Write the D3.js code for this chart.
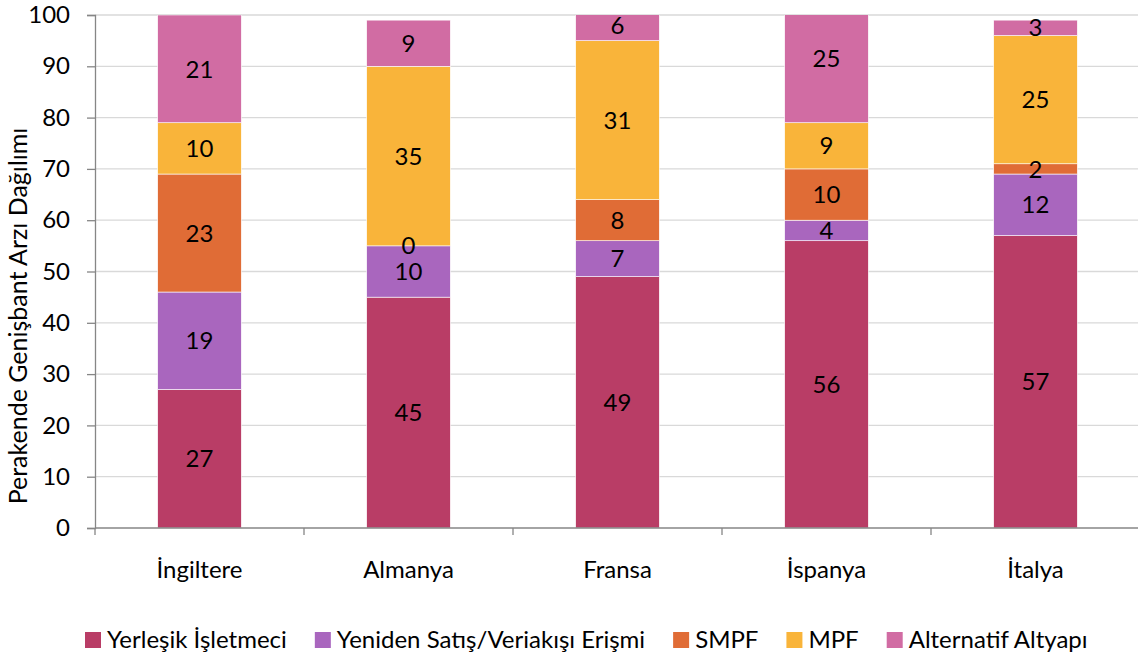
<!DOCTYPE html>
<html>
<head>
<meta charset="utf-8">
<script src="https://cdn.jsdelivr.net/npm/d3@7"></script>
<style>
	body { margin: 0; background: #fff; }
	text { font-family: Lato, "Open Sans", sans-serif; fill: #000; }
</style>
</head>
<body>
<script>
//chart data
var countries = ["İngiltere", "Almanya", "Fransa", "İspanya", "İtalya"];
var seriesNames = ["Yerleşik İşletmeci", "Yeniden Satış/Veriakışı Erişmi", "SMPF", "MPF", "Alternatif Altyapı"];
var seriesColors = ["#B93D66", "#A966BE", "#E06C36", "#F9B43A", "#D16CA3"];
var yerlesik = [27, 45, 49, 56, 57];
var yeniden = [19, 10, 7, 4, 12];
var smpf = [23, 0, 8, 10, 2];
var mpf = [10, 35, 31, 9, 25];
var alternatif = [21, 9, 6, 25, 3];
var yTicks = [0, 10, 20, 30, 40, 50, 60, 70, 80, 90, 100];

window.onload = drawChart();

function drawChart(){

	var width = 1138,
		height = 656;

	var svg = d3.select("body")
		.append("svg")
		.attr("width", width)
		.attr("height", height);

	//scales
	var x = d3.scaleBand()
		.domain(countries)
		.range([95, 1140])
		.paddingInner(0.6)
		.paddingOuter(0.3);

	var y = d3.scaleLinear()
		.domain([0, 100])
		.range([528, 15]);

	//gridlines
	svg.append("g")
		.selectAll("line")
		.data(yTicks.slice(1))
		.enter()
		.append("line")
		.attr("x1", 95)
		.attr("x2", width)
		.attr("y1", function(d){ return y(d); })
		.attr("y2", function(d){ return y(d); })
		.attr("stroke", "#d9d9d9")
		.attr("stroke-width", 1.3);

	//stack the series
	var table = countries.map(function(c, i){
		return { country: c, s0: yerlesik[i], s1: yeniden[i], s2: smpf[i], s3: mpf[i], s4: alternatif[i] };
	});
	var stacked = d3.stack().keys(["s0", "s1", "s2", "s3", "s4"])(table);

	svg.append("clipPath")
		.attr("id", "plotclip")
		.append("rect")
		.attr("x", 95).attr("y", y(100))
		.attr("width", width).attr("height", y(0) - y(100));

	var layers = svg.append("g")
		.attr("clip-path", "url(#plotclip)")
		.selectAll("g")
		.data(stacked)
		.enter()
		.append("g")
		.attr("fill", function(d, i){ return seriesColors[i]; });

	layers.selectAll("rect")
		.data(function(d){ return d; })
		.enter()
		.append("rect")
		.attr("x", function(d){ return x(d.data.country); })
		.attr("width", x.bandwidth())
		.attr("y", function(d){ return y(d[1]); })
		.attr("height", function(d){ return y(d[0]) - y(d[1]); })
		.attr("stroke", "#fff")
		.attr("stroke-width", 0.6);

	//value labels
	var labels = svg.append("g");
	stacked.forEach(function(layer){
		layer.forEach(function(d){
			labels.append("text")
				.attr("x", x(d.data.country) + x.bandwidth() / 2)
				.attr("y", y((d[0] + d[1]) / 2))
				.attr("dy", "0.36em")
				.attr("text-anchor", "middle")
				.style("font-size", "24px")
				.text(d[1] - d[0]);
		});
	});

	//y axis
	var yAxis = svg.append("g")
		.attr("transform", "translate(95,0)")
		.call(d3.axisLeft(y).tickValues(yTicks).tickSize(8).tickPadding(17));
	yAxis.selectAll("path, line").attr("stroke", "#868686").attr("stroke-width", 1.3);
	yAxis.selectAll("text").style("font-size", "24px").style("font-family", "Lato, 'Open Sans', sans-serif").attr("fill", "#000");

	//x axis
	var xAxis = svg.append("g")
		.attr("transform", "translate(0," + y(0) + ")");
	xAxis.append("line")
		.attr("x1", 95).attr("x2", width)
		.attr("stroke", "#868686").attr("stroke-width", 1.3);
	var step = x.step();
	xAxis.selectAll(".tick")
		.data(d3.range(countries.length + 1))
		.enter()
		.append("line")
		.attr("x1", function(i){ return 95 + i * step; })
		.attr("x2", function(i){ return 95 + i * step; })
		.attr("y1", 0).attr("y2", 7)
		.attr("stroke", "#868686").attr("stroke-width", 1.3);
	xAxis.selectAll(".cat")
		.data(countries)
		.enter()
		.append("text")
		.attr("x", function(d){ return x(d) + x.bandwidth() / 2; })
		.attr("y", 50)
		.attr("text-anchor", "middle")
		.style("font-size", "24px")
		.text(function(d){ return d; });

	//y axis title
	svg.append("text")
		.attr("transform", "translate(27,316) rotate(-90)")
		.attr("text-anchor", "middle")
		.style("font-size", "25px")
		.text("Perakende Genişbant Arzı Dağılımı");

	//legend
	var legend = svg.append("g");
	var lx = 0;
	seriesNames.forEach(function(name, i){
		var item = legend.append("g").attr("transform", "translate(" + lx + ",0)");
		item.append("rect")
			.attr("x", 0).attr("y", -15)
			.attr("width", 16).attr("height", 16)
			.attr("fill", seriesColors[i]);
		var t = item.append("text")
			.attr("x", 22).attr("y", 1)
			.style("font-size", "24px")
			.text(name);
		lx += 22 + t.node().getComputedTextLength() + 28;
	});
	legend.attr("transform", "translate(85,647)");
};
</script>
</body>
</html>
